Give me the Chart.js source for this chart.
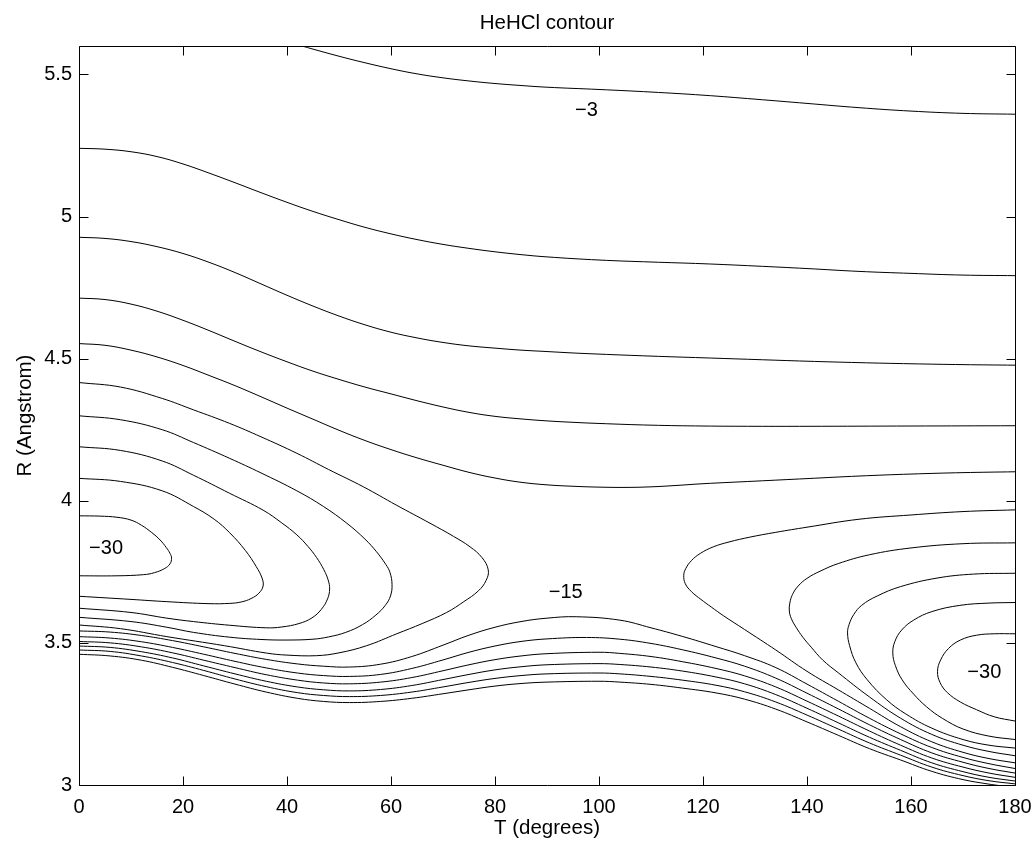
<!DOCTYPE html>
<html>
<head>
<meta charset="utf-8">
<title>HeHCl contour</title>
<script src="https://cdn.jsdelivr.net/npm/chart.js@4.4.0/dist/chart.umd.min.js"></script>
<style>
  html, body { margin: 0; padding: 0; background: #fff; }
  #wrap { width: 1036px; height: 844px; }
</style>
</head>
<body>
<div id="wrap"><canvas id="contourChart"></canvas></div>
<script>
const xTicks = [0, 20, 40, 60, 80, 100, 120, 140, 160, 180];
const yTicks = [3, 3.5, 4, 4.5, 5, 5.5];

// contour lines, [T (degrees), R (Angstrom)]
const level3 = [[42.9,5.6],[45,5.589],[50,5.564],[55,5.541],[60,5.52],[65,5.502],[70,5.488],[75,5.477],[80,5.468],[85,5.461],[90,5.455],[100,5.447],[110,5.438],[120,5.427],[130,5.413],[140,5.398],[150,5.383],[160,5.371],[170,5.363],[180,5.36]];
const upper1 = [[0,5.24],[5,5.237],[10,5.228],[15,5.211],[20,5.185],[25,5.153],[30,5.119],[35,5.084],[40,5.05],[45,5.018],[50,4.989],[55,4.962],[60,4.939],[65,4.919],[70,4.902],[75,4.888],[80,4.876],[85,4.866],[90,4.858],[100,4.847],[110,4.84],[120,4.834],[130,4.826],[140,4.817],[150,4.807],[160,4.8],[170,4.794],[180,4.792]];
const upper2 = [[0,4.927],[5,4.923],[10,4.912],[15,4.894],[20,4.87],[25,4.839],[30,4.803],[35,4.763],[40,4.723],[45,4.685],[50,4.65],[55,4.619],[60,4.593],[65,4.573],[70,4.557],[75,4.545],[80,4.537],[85,4.53],[90,4.525],[95,4.52],[100,4.516],[110,4.509],[120,4.503],[130,4.497],[140,4.491],[150,4.486],[160,4.482],[170,4.479],[180,4.477]];
const upper3 = [[0,4.713],[5,4.708],[10,4.692],[15,4.667],[20,4.635],[25,4.599],[30,4.561],[35,4.524],[40,4.489],[45,4.456],[50,4.427],[55,4.4],[60,4.376],[65,4.352],[70,4.33],[75,4.311],[80,4.297],[85,4.288],[90,4.281],[95,4.276],[100,4.272],[110,4.266],[120,4.263],[130,4.262],[140,4.262],[160,4.263],[180,4.264]];
const upper4 = [[0,4.553],[5,4.547],[10,4.53],[15,4.506],[20,4.476],[25,4.441],[30,4.405],[35,4.366],[40,4.326],[45,4.287],[50,4.248],[55,4.212],[60,4.18],[65,4.151],[70,4.125],[75,4.1],[80,4.08],[85,4.065],[90,4.056],[95,4.051],[100,4.048],[105,4.047],[110,4.049],[115,4.054],[120,4.06],[130,4.069],[140,4.078],[150,4.087],[160,4.094],[170,4.099],[180,4.102]];

const leftLoop1 = [[0,3.947],[4,3.946],[7.3,3.942],[10,3.932],[12,3.914],[14,3.888],[15.6,3.862],[16.8,3.835],[17.5,3.815],[17.8,3.798],[17.5,3.778],[16.5,3.762],[14.5,3.747],[12.4,3.74],[7.3,3.736],[0,3.736]];
const leftLoop2 = [[0,4.079],[8,4.068],[16,4.035],[22,3.98],[26,3.935],[29,3.887],[32,3.825],[34.1,3.768],[35.2,3.728],[35.4,3.7],[34.6,3.675],[33.1,3.656],[31.2,3.644],[29,3.639],[25,3.638],[16.9,3.645],[10,3.653],[0,3.664]];
const leftLoop3 = [[0,4.19],[8,4.177],[16,4.14],[22,4.09],[29,4.026],[35.4,3.967],[39,3.922],[41.9,3.88],[44,3.84],[45.7,3.8],[47.1,3.757],[47.9,3.722],[48.2,3.69],[47.8,3.655],[46.6,3.618],[44.8,3.588],[42.3,3.568],[39,3.556],[36,3.553],[29,3.562],[22,3.575],[16.9,3.587],[10,3.607],[0,3.622]];
const leftLoop4 = [[0,4.299],[8,4.285],[16,4.25],[22,4.205],[29,4.149],[35,4.098],[41.9,4.035],[47,3.98],[51.5,3.921],[55,3.865],[57.2,3.821],[59,3.776],[59.8,3.748],[60.2,3.705],[59.9,3.665],[58.9,3.632],[57.1,3.598],[54.5,3.564],[51.3,3.537],[48,3.521],[45,3.513],[40,3.51],[35,3.512],[29,3.52],[22,3.537],[16.9,3.555],[10,3.575],[0,3.59]];
const leftLoop5 = [[0,4.416],[8,4.4],[16,4.36],[22,4.32],[29,4.272],[35,4.225],[41.9,4.167],[48,4.11],[54.7,4.049],[61,3.985],[67.5,3.921],[72,3.875],[75.2,3.838],[77.5,3.8],[78.7,3.757],[78.3,3.72],[76.8,3.683],[74,3.645],[70.7,3.607],[66,3.568],[61.1,3.532],[55.3,3.49],[50,3.465],[45.7,3.455],[40,3.457],[36.1,3.464],[28,3.49],[16.9,3.522],[8,3.55],[0,3.563]];

const rightLoop1 = [[180,3.532],[176,3.532],[172.6,3.527],[169.5,3.51],[167.2,3.48],[165.7,3.44],[165.1,3.4],[165.6,3.36],[167,3.325],[169.5,3.292],[172.6,3.265],[176,3.24],[180,3.225]];
const rightLoop2 = [[180,3.642],[175,3.64],[169.4,3.632],[164,3.61],[160.5,3.58],[158.2,3.545],[156.9,3.505],[156.5,3.465],[157,3.42],[158.3,3.37],[160.5,3.32],[163,3.275],[166,3.235],[170,3.197],[175,3.172],[180,3.16]];
const rightLoop3 = [[180,3.745],[172,3.742],[165,3.728],[158,3.698],[153.5,3.665],[150.5,3.632],[149,3.6],[148.1,3.565],[147.8,3.535],[148.2,3.49],[149.4,3.43],[151.6,3.37],[155.3,3.3],[159,3.25],[164,3.2],[170,3.16],[175,3.14],[180,3.13]];
const rightLoop4 = [[180,3.852],[170,3.849],[160,3.834],[152,3.81],[146,3.779],[142.5,3.752],[140,3.727],[138.3,3.7],[137.2,3.67],[136.7,3.64],[136.6,3.612],[137,3.585],[137.9,3.555],[139.2,3.52],[140.8,3.485],[143,3.44],[146,3.395],[152,3.31],[158,3.235],[164,3.178],[170,3.14],[175,3.118],[180,3.103]];
const rightLoop5 = [[180,3.968],[170,3.962],[160,3.95],[150,3.935],[140,3.907],[134,3.889],[129,3.872],[125,3.855],[122,3.838],[119.5,3.815],[117.8,3.79],[116.7,3.762],[116.3,3.738],[116.6,3.708],[117.8,3.68],[119.6,3.653],[121.6,3.626],[123.9,3.596],[128,3.547],[134,3.475],[140,3.4],[146,3.335],[152,3.27],[158,3.205],[164,3.152],[170,3.115],[175,3.093],[180,3.078]];

const lower1 = [[0,3.542],[6,3.538],[12,3.526],[18,3.508],[24,3.486],[30,3.463],[36,3.442],[42,3.426],[47,3.418],[52,3.415],[58,3.425],[64,3.452],[70,3.492],[75,3.527],[80,3.555],[85,3.575],[90,3.587],[95.6,3.592],[104,3.58],[110,3.553],[116,3.523],[122.5,3.487],[128,3.455],[134,3.413],[140,3.355],[146,3.295],[152,3.235],[158,3.18],[164,3.132],[170,3.097],[175,3.075],[180,3.058]];
const lower2 = [[0,3.522],[6,3.517],[12,3.504],[18,3.484],[24,3.46],[30,3.435],[36,3.412],[42,3.394],[47,3.385],[52,3.382],[58,3.389],[64,3.41],[70,3.44],[75,3.467],[80,3.489],[85,3.505],[90,3.514],[97.6,3.519],[104,3.513],[110,3.498],[116,3.476],[122.5,3.447],[128,3.418],[134,3.376],[140,3.323],[146,3.268],[152,3.212],[158,3.16],[164,3.113],[170,3.08],[175,3.058],[180,3.042]];
const lower3 = [[0,3.505],[6,3.5],[12,3.486],[18,3.465],[24,3.439],[30,3.413],[36,3.388],[42,3.369],[47,3.359],[52,3.356],[58,3.362],[64,3.378],[70,3.402],[75,3.423],[80,3.441],[85,3.454],[90,3.462],[100,3.467],[104,3.463],[110,3.452],[116,3.434],[122.5,3.41],[128,3.384],[134,3.345],[140,3.295],[146,3.243],[152,3.19],[158,3.14],[164,3.095],[170,3.063],[175,3.042],[180,3.027]];
const lower4 = [[0,3.489],[6,3.484],[12,3.469],[18,3.447],[24,3.419],[30,3.391],[36,3.365],[42,3.345],[47,3.335],[52,3.331],[58,3.336],[64,3.35],[70,3.371],[75,3.389],[80,3.405],[85,3.416],[90,3.423],[100,3.427],[104,3.424],[110,3.415],[116,3.401],[122.5,3.38],[128,3.356],[134,3.318],[140,3.27],[146,3.219],[152,3.168],[158,3.122],[164,3.078],[170,3.047],[175,3.027],[180,3.014]];
const lower5 = [[0,3.475],[6,3.47],[12,3.454],[18,3.431],[24,3.403],[30,3.373],[36,3.346],[42,3.325],[47,3.315],[52,3.311],[58,3.315],[64,3.327],[70,3.345],[75,3.361],[80,3.375],[85,3.385],[90,3.391],[100,3.394],[104,3.391],[110,3.382],[116,3.369],[122.5,3.351],[128,3.328],[134,3.292],[140,3.246],[146,3.197],[152,3.148],[158,3.105],[164,3.063],[170,3.033],[175,3.015],[180,3.004]];
const lower6 = [[0,3.46],[6,3.454],[12,3.439],[18,3.414],[24,3.385],[30,3.355],[36,3.327],[42,3.305],[47,3.294],[52,3.29],[58,3.294],[64,3.305],[70,3.321],[75,3.335],[80,3.348],[85,3.357],[90,3.362],[100,3.365],[104,3.362],[110,3.354],[116,3.341],[122.5,3.324],[128,3.302],[134,3.267],[140,3.222],[146,3.175],[152,3.128],[158,3.088],[164,3.048],[170,3.019],[175,3.003],[177,2.998]];

// contour level labels
const labelText = ["\u22123", "\u221215", "\u221230", "\u221230"];
const labelT = [97.6, 93.6, 5.2, 174.1];
const labelR = [5.373, 3.677, 3.833, 3.396];

const FONT = "'Liberation Sans', Arial, Helvetica, sans-serif";

const contours = [
  level3, upper1, upper2, upper3, upper4,
  leftLoop1, leftLoop2, leftLoop3, leftLoop4, leftLoop5,
  rightLoop1, rightLoop2, rightLoop3, rightLoop4, rightLoop5,
  lower1, lower2, lower3, lower4, lower5, lower6
];

const framePlugin = {
  id: "frame",
  afterDatasetsDraw(chart) {
    const { ctx, chartArea: a, scales: { x, y } } = chart;
    const L = Math.round(a.left) + 0.5, R = Math.round(a.right) + 0.5;
    const T = Math.round(a.top) + 0.5, B = Math.round(a.bottom) + 0.5;
    const tick = 9;

    ctx.save();
    ctx.strokeStyle = "#000";
    ctx.lineWidth = 1;
    ctx.beginPath();
    ctx.rect(L, T, R - L, B - T);
    xTicks.forEach(v => {
      const px = Math.round(x.getPixelForValue(v)) + 0.5;
      ctx.moveTo(px, B); ctx.lineTo(px, B - tick);
      ctx.moveTo(px, T); ctx.lineTo(px, T + tick);
    });
    yTicks.forEach(v => {
      const py = Math.round(y.getPixelForValue(v)) + 0.5;
      ctx.moveTo(L, py); ctx.lineTo(L + tick, py);
      ctx.moveTo(R, py); ctx.lineTo(R - tick, py);
    });
    ctx.stroke();

    ctx.fillStyle = "#000";
    ctx.font = "20px " + FONT;
    ctx.textAlign = "center";
    ctx.textBaseline = "middle";
    labelText.forEach((t, i) => {
      ctx.fillText(t, x.getPixelForValue(labelT[i]), y.getPixelForValue(labelR[i]));
    });
    ctx.restore();
  }
};

new Chart(document.getElementById("contourChart"), {
  type: "scatter",
  data: {
    datasets: contours.map(line => ({
      data: line.map(([t, r]) => ({ x: t, y: r })),
      showLine: true,
      borderColor: "#000",
      borderWidth: 1,
      pointRadius: 0,
      pointHoverRadius: 0,
      tension: 0.4,
      fill: false,
      clip: 0
    }))
  },
  options: {
    responsive: true,
    maintainAspectRatio: false,
    animation: false,
    events: [],
    layout: { padding: { top: 0, right: 21, bottom: 0, left: 0 } },
    plugins: {
      legend: { display: false },
      tooltip: { enabled: false },
      title: {
        display: true,
        fullSize: false,
        text: "HeHCl contour",
        color: "#000",
        font: { size: 20.5, weight: "normal", family: FONT, lineHeight: 1.2 },
        padding: { top: 11, bottom: 10.4 }
      }
    },
    scales: {
      x: {
        type: "linear",
        min: 0,
        max: 180,
        afterBuildTicks: s => { s.ticks = xTicks.map(v => ({ value: v })); },
        afterFit: s => { s.height = 59; s.paddingLeft = 0; s.paddingRight = 0; },
        grid: { display: false, drawTicks: false },
        border: { display: false },
        ticks: {
          color: "#000",
          font: { size: 20, family: FONT },
          padding: 10,
          maxRotation: 0,
          autoSkip: false,
          callback: v => String(v)
        },
        title: {
          display: true,
          text: "T (degrees)",
          color: "#000",
          font: { size: 20.5, family: FONT, lineHeight: 1.2 },
          padding: { top: 0, bottom: 3 }
        }
      },
      y: {
        type: "linear",
        min: 3,
        max: 5.6,
        afterBuildTicks: s => { s.ticks = yTicks.map(v => ({ value: v })); },
        afterFit: s => { s.width = 79; },
        grid: { display: false, drawTicks: false },
        border: { display: false },
        ticks: {
          color: "#000",
          font: { size: 20, family: FONT },
          padding: 7,
          autoSkip: false,
          callback: v => String(v)
        },
        title: {
          display: true,
          text: "R (Angstrom)",
          color: "#000",
          font: { size: 20.5, family: FONT, lineHeight: 1.2 },
          padding: { top: 13, bottom: 0 }
        }
      }
    }
  },
  plugins: [framePlugin]
});
</script>
</body>
</html>
